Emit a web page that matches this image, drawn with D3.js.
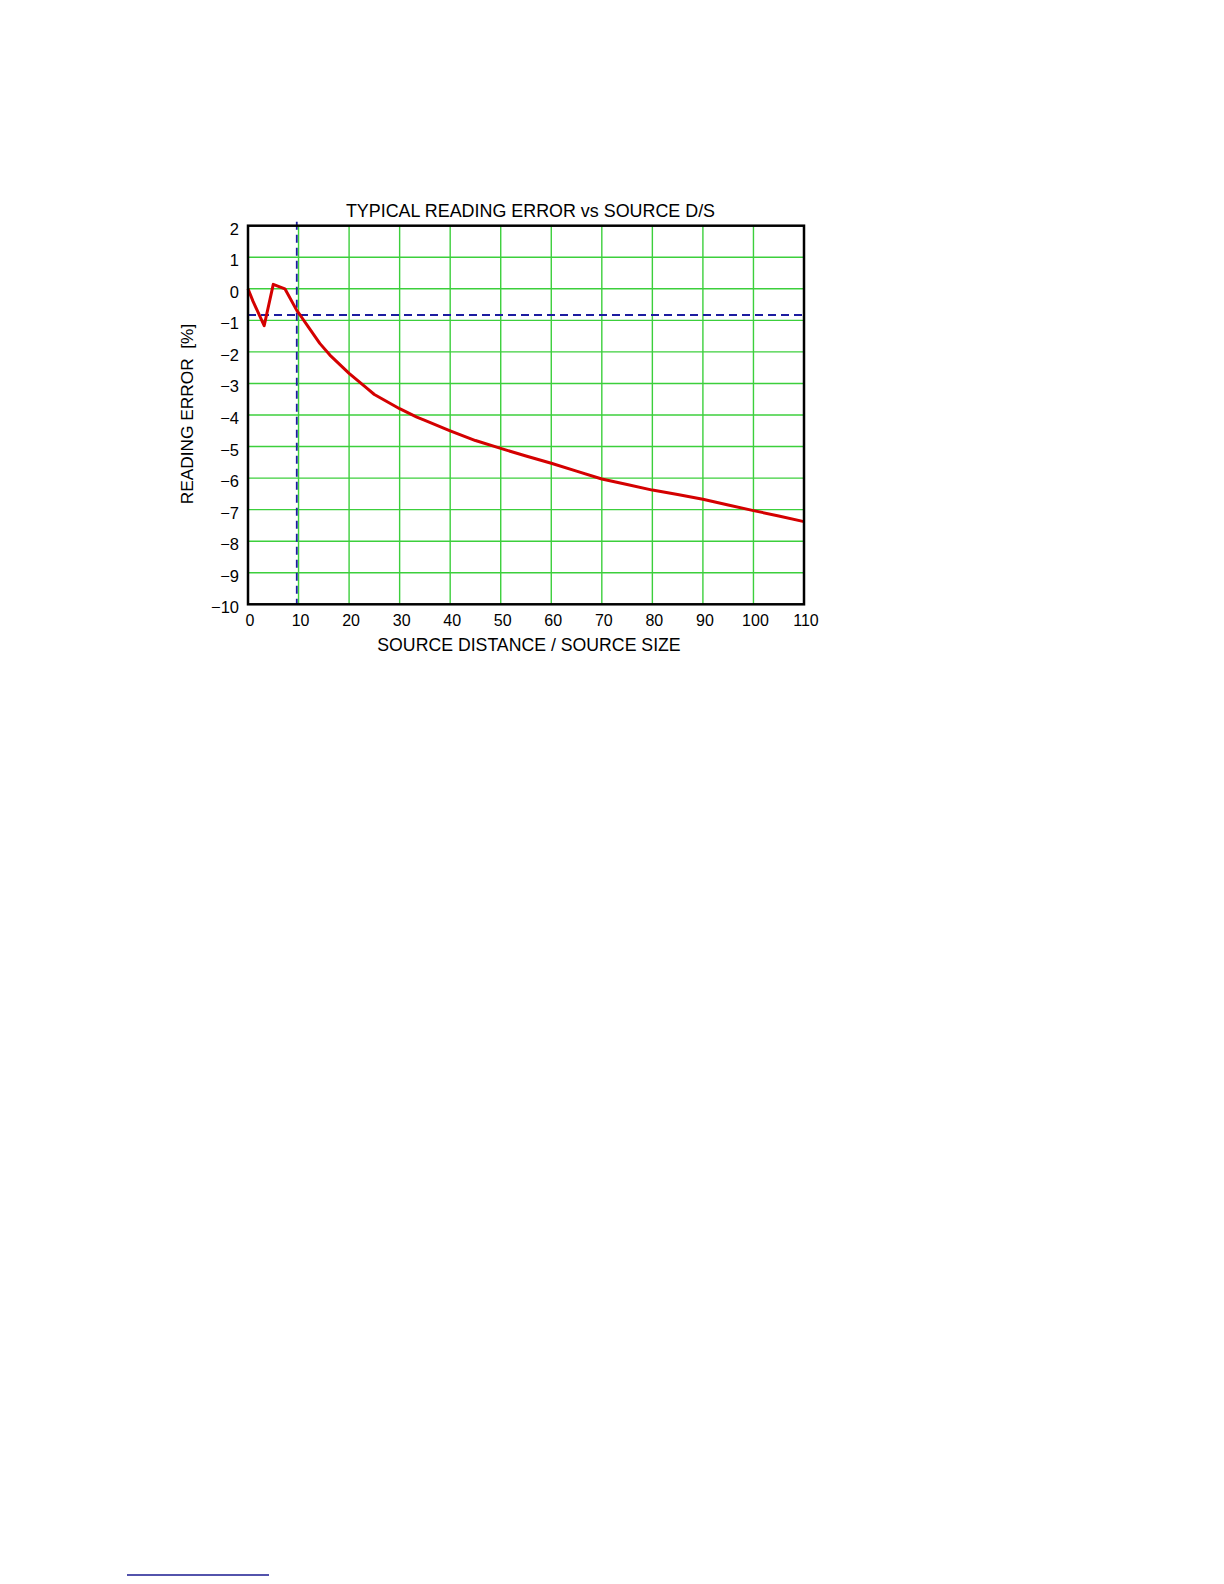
<!DOCTYPE html>
<html>
<head>
<meta charset="utf-8">
<script src="https://cdn.jsdelivr.net/npm/d3@7"></script>
<style>
  html, body { margin: 0; padding: 0; background: #fff; }
  svg { display: block; font-family: "Liberation Sans", Arial, sans-serif; }
</style>
</head>
<body>
<div id="container"></div>
<script>
// reading error curve
var ratio = [0, 1, 3.2, 5, 7.3, 9.7, 10.3, 12, 14.2, 16.2, 20, 23.5, 25, 30, 33.4, 35, 40, 45, 50, 55, 60, 65, 70, 75, 80, 85, 90, 95, 100, 105, 110];
var error = [0, -0.4, -1.17, 0.14, 0, -0.7, -0.83, -1.22, -1.73, -2.1, -2.68, -3.15, -3.35, -3.8, -4.07, -4.17, -4.5, -4.81, -5.06, -5.3, -5.53, -5.78, -6.03, -6.2, -6.38, -6.52, -6.67, -6.85, -7.03, -7.2, -7.38];

var xTicks = [0, 10, 20, 30, 40, 50, 60, 70, 80, 90, 100, 110];
var yTicks = [2, 1, 0, -1, -2, -3, -4, -5, -6, -7, -8, -9, -10];

// dashed marker lines
var markX = 9.65;
var markY = -0.83;

var width = 1224, height = 1584;

const svg = d3.select("div#container").append("svg")
    .attr("width", width)
    .attr("height", height);

const x = d3.scaleLinear().domain([0, 110]).range([248, 804]);
const y = d3.scaleLinear().domain([-10, 2]).range([604.3, 225.7]);

const fmt = d => (d < 0 ? "\u2212" + Math.abs(d) : String(d));

// grid
svg.append("g")
    .attr("stroke", "#3ccf3c")
    .attr("stroke-width", 1.4)
    .selectAll("line.v")
    .data(xTicks.filter(d => d > 0 && d < 110))
    .join("line")
    .attr("x1", d => x(d)).attr("x2", d => x(d))
    .attr("y1", y(2)).attr("y2", y(-10));

svg.append("g")
    .attr("stroke", "#3ccf3c")
    .attr("stroke-width", 1.4)
    .selectAll("line.h")
    .data(yTicks.filter(d => d > -10 && d < 2))
    .join("line")
    .attr("x1", x(0)).attr("x2", x(110))
    .attr("y1", d => y(d)).attr("y2", d => y(d));

// dashed markers
svg.append("line")
    .attr("x1", x(markX)).attr("x2", x(markX))
    .attr("y1", y(2) - 4).attr("y2", y(-10))
    .attr("stroke", "#1c1ca0")
    .attr("stroke-width", 1.8)
    .attr("stroke-dasharray", "8,5");

svg.append("line")
    .attr("x1", x(0)).attr("x2", x(110) + 2)
    .attr("y1", y(markY)).attr("y2", y(markY))
    .attr("stroke", "#1c1ca0")
    .attr("stroke-width", 1.8)
    .attr("stroke-dasharray", "8,5");

// curve
const pts = ratio.map((r, i) => [r, error[i]]);
const line = d3.line().x(d => x(d[0])).y(d => y(d[1]));

svg.append("path")
    .datum(pts)
    .attr("fill", "none")
    .attr("stroke", "#d40000")
    .attr("stroke-width", 3)
    .attr("stroke-linejoin", "round")
    .attr("d", line);

// frame
svg.append("rect")
    .attr("x", x(0)).attr("y", y(2))
    .attr("width", x(110) - x(0))
    .attr("height", y(-10) - y(2))
    .attr("fill", "none")
    .attr("stroke", "#000")
    .attr("stroke-width", 2.5);

// tick labels
svg.append("g")
    .selectAll("text")
    .data(yTicks)
    .join("text")
    .attr("x", 239)
    .attr("y", d => y(d) + 9)
    .attr("text-anchor", "end")
    .attr("font-size", 16.5)
    .attr("fill", "#000")
    .text(fmt);

svg.append("g")
    .selectAll("text")
    .data(xTicks)
    .join("text")
    .attr("x", d => x(d) + 2)
    .attr("y", 626)
    .attr("text-anchor", "middle")
    .attr("font-size", 16)
    .attr("fill", "#000")
    .text(fmt);

// titles
svg.append("text")
    .attr("x", 530.5)
    .attr("y", 217)
    .attr("text-anchor", "middle")
    .attr("font-size", 17.9)
    .text("TYPICAL READING ERROR vs SOURCE D/S");

svg.append("text")
    .attr("x", 529)
    .attr("y", 651)
    .attr("text-anchor", "middle")
    .attr("font-size", 17.7)
    .text("SOURCE DISTANCE / SOURCE SIZE");

svg.append("text")
    .attr("transform", "translate(193,414) rotate(-90)")
    .attr("text-anchor", "middle")
    .attr("font-size", 17.3)
    .style("white-space", "pre")
    .text("READING ERROR  [%]");

// empty hyperlink underline at page foot
svg.append("line")
    .attr("x1", 127).attr("x2", 269)
    .attr("y1", 1575).attr("y2", 1575)
    .attr("stroke", "#1a1a90")
    .attr("stroke-width", 1.5);
</script>
</body>
</html>
